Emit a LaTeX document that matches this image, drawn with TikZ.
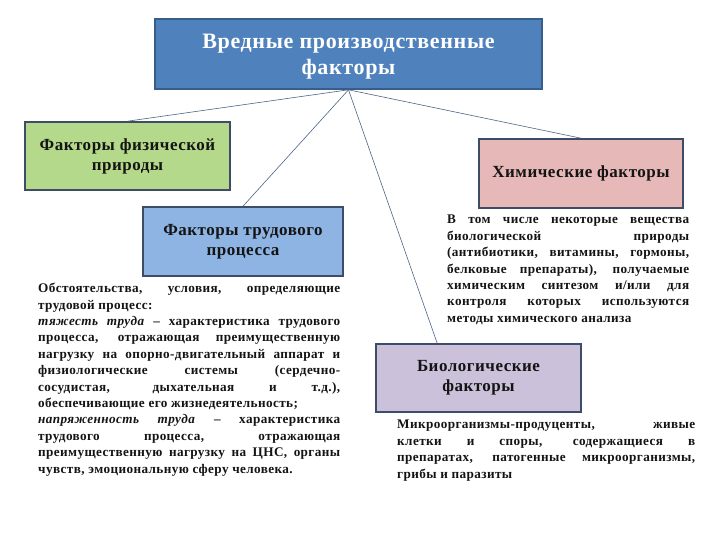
\documentclass[tikz,border=0pt]{standalone}
\usepackage{fontspec}
\setmainfont{Liberation Serif}
\usetikzlibrary{calc}
\definecolor{topfill}{HTML}{4F81BD}
\definecolor{topedge}{HTML}{385D8A}
\definecolor{greenfill}{HTML}{B5D98B}
\definecolor{trudfill}{HTML}{8EB4E3}
\definecolor{chemfill}{HTML}{E6B9B8}
\definecolor{biofill}{HTML}{CCC1DA}
\definecolor{boxedge}{HTML}{3E4C68}
\definecolor{linkcol}{HTML}{4A6688}
\definecolor{txt}{HTML}{141414}
\hyphenpenalty=10000
\emergencystretch=2em
\begin{document}
\begin{tikzpicture}[x=1pt,y=-1pt,
  box/.style={draw=boxedge, line width=1.6pt, rectangle, inner sep=0pt, align=center,
    text=txt, font=\bfseries\fontsize{17}{20}\selectfont\addfontfeature{LetterSpace=3}},
  link/.style={draw=linkcol, line width=0.6pt},
  body/.style={anchor=north west, inner sep=0pt, text width=#1, align=justify, text=txt,
    font=\bfseries\fontsize{13.2}{16.4}\selectfont\addfontfeature{LetterSpace=3}}]
\useasboundingbox (0,0) rectangle (720,540);
\fill[white] (0,0) rectangle (720,540);

\node[box, draw=topedge, fill=topfill, text=white, minimum width=387pt, minimum height=70pt,
  font=\bfseries\fontsize{22}{25}\selectfont\addfontfeature{LetterSpace=3}] (top) at (348.5,54) {\rule{0pt}{20pt}Вредные производственные\\[1pt]факторы};
\node[box, fill=greenfill, minimum width=205pt, minimum height=68pt] (phys) at (127.5,156) {Факторы физической\\природы};
\node[box, fill=trudfill, minimum width=200pt, minimum height=69pt] (trud) at (243,241.5) {Факторы трудового\\процесса};
\node[box, fill=chemfill, minimum width=204pt, minimum height=69pt] (chem) at (581,173.5) {Химические факторы};
\node[box, fill=biofill, minimum width=205pt, minimum height=68pt] (bio) at (478.5,378) {Биологические\\факторы};

\coordinate (biotop) at ($(bio.north west)!0.3!(bio.north east)$);
\draw[link] (top.south) -- (phys.north);
\draw[link] (top.south) -- (trud.north);
\draw[link] (top.south) -- (chem.north);
\draw[link] (top.south) -- (biotop);

\node[body=302pt] (trudtext) at (38,283) {Обстоятельства, условия, определяющие\linebreak трудовой процесс:\par
\textit{тяжесть труда} – характеристика трудового\linebreak процесса, отражающая преимущественную\linebreak нагрузку на опорно-двигательный аппарат и\linebreak физиологические системы (сердечно-\linebreak сосудистая, дыхательная и т.д.),\linebreak обеспечивающие его жизнедеятельность;\par
\textit{напряженность труда} – характеристика\linebreak трудового процесса, отражающая\linebreak преимущественную нагрузку на ЦНС, органы\linebreak чувств, эмоциональную сферу человека.};

\node[body=242pt] (chemtext) at (447,215) {В том числе некоторые вещества\linebreak биологической природы\linebreak (антибиотики, витамины, гормоны,\linebreak белковые препараты), получаемые\linebreak химическим синтезом и/или для\linebreak контроля которых используются\linebreak методы химического анализа};

\node[body=298pt] (biotext) at (397,420) {Микроорганизмы-продуценты, живые\linebreak клетки и споры, содержащиеся в\linebreak препаратах, патогенные микроорганизмы,\linebreak грибы и паразиты};
\end{tikzpicture}
\end{document}
